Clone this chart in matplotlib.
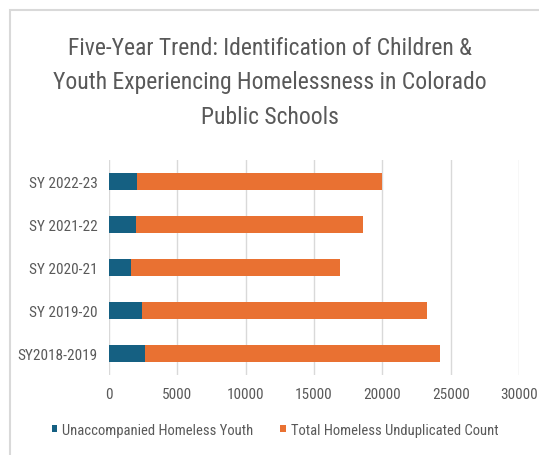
import matplotlib.pyplot as plt
from matplotlib.patches import Rectangle

# data (stacked horizontal bars, bottom to top)
years = ['SY2018-2019', 'SY 2019-20', 'SY 2020-21', 'SY 2021-22', 'SY 2022-23']
unaccompanied = [2656, 2428, 1619, 1998, 2049]
total_count = [21573, 20840, 15250, 16591, 17931]
xticks = [0, 5000, 10000, 15000, 20000, 25000, 30000]

blue = '#156082'
orange = '#E97132'
grey_txt = '#595959'
plt.rcParams['font.family'] = ['Roboto Condensed', 'Roboto', 'DejaVu Sans']

fig = plt.figure(figsize=(5.39, 4.56), dpi=100)
ax = fig.add_axes([109 / 539, 1 - 376 / 456, 410 / 539, 215 / 456])

pos = list(range(len(years)))
b1 = ax.barh(pos, unaccompanied, height=0.4, color=blue,
             label='Unaccompanied Homeless Youth', zorder=3)
b2 = ax.barh(pos, total_count, left=unaccompanied, height=0.4, color=orange,
             label='Total Homeless Unduplicated Count', zorder=3)

ax.set_xlim(0, 30000)
ax.set_ylim(-0.5, len(years) - 0.5)
ax.set_xticks(xticks)
ax.set_xticklabels([str(t) for t in xticks])
ax.set_yticks(pos)
ax.set_yticklabels(years)
ax.tick_params(axis='both', length=0, labelsize=11, colors=grey_txt)
ax.tick_params(axis='x', pad=9)
ax.tick_params(axis='y', pad=8)
ax.grid(axis='x', color='#D9D9D9', linewidth=1, zorder=0)
for s in ax.spines.values():
    s.set_visible(False)

fig.text(0.5, 1 - 83 / 456,
         'Five-Year Trend: Identification of Children &\n'
         'Youth Experiencing Homelessness in Colorado\n'
         'Public Schools',
         ha='center', va='center', fontsize=17, color=grey_txt,
         linespacing=1.62)

fig.legend(handles=[b1, b2], loc='center', ncol=2,
           bbox_to_anchor=(275 / 539, 1 - 431 / 456), frameon=False,
           fontsize=10.5, labelcolor=grey_txt, handlelength=0.4,
           handleheight=0.4, handletextpad=0.35, columnspacing=1.8)

# chart area border (only top and left visible)
fig.patches.append(Rectangle((10 / 539, -0.1), 1.2, 1 - 11 / 456 + 0.1,
                             transform=fig.transFigure, fill=False,
                             edgecolor='#D9D9D9', linewidth=1.5))

fig.savefig('out.png', dpi=100)
